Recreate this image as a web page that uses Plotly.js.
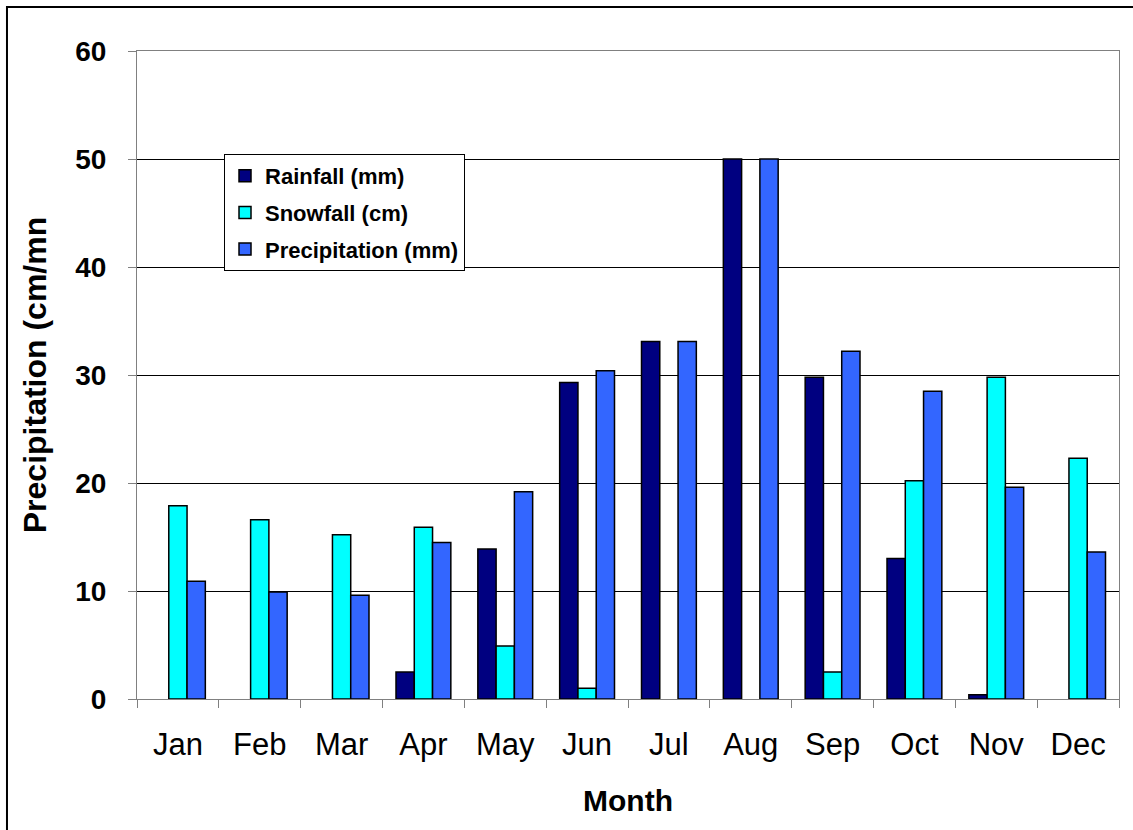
<!DOCTYPE html>
<html>
<head>
<meta charset="utf-8">
<script src="https://cdn.plot.ly/plotly-3.0.1.min.js"></script>
<style>
  html, body { margin: 0; padding: 0; background: #fff; }
  #chart { width: 1133px; height: 830px; }
</style>
</head>
<body>
<div id="chart"></div>
<script>
// Monthly precipitation summary
const months = ['Jan', 'Feb', 'Mar', 'Apr', 'May', 'Jun', 'Jul', 'Aug', 'Sep', 'Oct', 'Nov', 'Dec'];
const rainfallMm = [0, 0, 0, 2.5, 13.9, 29.3, 33.1, 50, 29.8, 13.0, 0.4, 0];
const snowfallCm = [17.9, 16.6, 15.2, 15.9, 4.9, 1.0, 0, 0, 2.5, 20.2, 29.8, 22.3];
const precipitationMm = [10.9, 9.9, 9.6, 14.5, 19.2, 30.4, 33.1, 50, 32.2, 28.5, 19.6, 13.6];
const yTicks = [0, 10, 20, 30, 40, 50, 60];

const FONT = 'Liberation Sans, Arial, sans-serif';
const AXIS_GREY = '#808080';

// months with no amount get no bar at all (not even an outline)
function noZeroBars(values) {
  return values.map(v => (v === 0 ? null : v));
}

function barTrace(name, values, color, group) {
  return {
    type: 'bar',
    name: name,
    x: months,
    y: noZeroBars(values),
    legendgroup: group,
    marker: { color: color, line: { color: '#000000', width: 1.5 } },
    hoverinfo: 'x+y+name'
  };
}

const data = [
  barTrace('Rainfall (mm)', rainfallMm, '#000080', 'a'),
  barTrace('Snowfall (cm)', snowfallCm, '#00FFFF', 'b'),
  barTrace('Precipitation (mm)', precipitationMm, '#3366FF', 'c')
];

const layout = {
  width: 1133,
  height: 830,
  margin: { l: 137, r: 14, t: 51, b: 131, pad: 0 },
  paper_bgcolor: '#ffffff',
  plot_bgcolor: '#ffffff',
  font: { family: FONT, color: '#000000' },
  barmode: 'group',
  bargap: 0.33,
  bargroupgap: 0,
  showlegend: true,
  legend: {
    x: 0.0886, xanchor: 'left',
    y: 0.841, yanchor: 'top',
    bgcolor: '#ffffff',
    bordercolor: '#000000',
    borderwidth: 1,
    itemwidth: 30,
    traceorder: 'grouped',
    tracegroupgap: 5,
    font: { family: FONT, size: 22, weight: 700, color: '#000000' }
  },
  xaxis: {
    type: 'category',
    tickson: 'boundaries',
    ticks: 'outside',
    ticklen: 8,
    tickwidth: 1,
    tickcolor: AXIS_GREY,
    showline: true,
    linecolor: AXIS_GREY,
    linewidth: 1,
    mirror: true,
    showgrid: false,
    ticklabelstandoff: 18,
    tickfont: { family: FONT, size: 31, color: '#000000' },
    title: {
      text: 'Month',
      standoff: 28,
      font: { family: FONT, size: 30, weight: 700, color: '#000000' }
    }
  },
  yaxis: {
    range: [0, 60],
    tickvals: yTicks,
    ticktext: yTicks.map(String),
    ticks: 'outside',
    ticklen: 8,
    tickwidth: 1,
    tickcolor: AXIS_GREY,
    showline: true,
    linecolor: AXIS_GREY,
    linewidth: 1,
    mirror: true,
    showgrid: true,
    gridcolor: '#000000',
    gridwidth: 1,
    zeroline: false,
    ticklabelstandoff: 16,
    tickfont: { family: FONT, size: 28, weight: 700, color: '#000000' },
    title: {
      text: 'Precipitation (cm/mn',
      standoff: 19,
      font: { family: FONT, size: 32, weight: 700, color: '#000000' }
    }
  },
  shapes: [
    {
      // outer chart frame
      type: 'rect',
      xref: 'paper', yref: 'paper',
      x0: -0.1324, x1: 1.03,
      y0: -0.23, y1: 1.0679,
      line: { color: '#000000', width: 2 },
      fillcolor: 'rgba(0,0,0,0)',
      layer: 'above'
    }
  ]
};

Plotly.newPlot('chart', data, layout, { displayModeBar: false, staticPlot: true });
</script>
</body>
</html>
